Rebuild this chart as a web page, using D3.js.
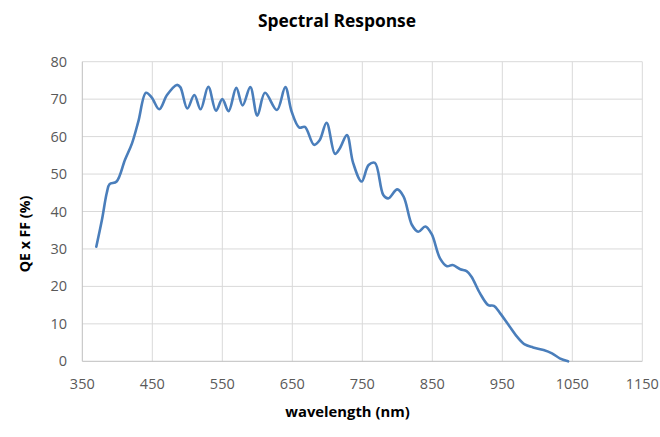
<!DOCTYPE html>
<html><head><meta charset="utf-8">
<script src="https://cdn.jsdelivr.net/npm/d3@7/dist/d3.min.js"></script>
<style>body{margin:0;background:#fff}svg{display:block}</style>
</head><body>
<script>
const wavelength = [370,378,385,389,399,411,421,430,441,449,460,471,485,490,500,510,519,530,541,550,559,570,579,590,600,611,628,640,649,660,668,681,689,699,711,718,728,737,749,759,768,780,787,800,809,821,830,840,849,861,871,879,890,899,906,918,930,938,947,959,971,982,994,1009,1021,1032,1044];
const qeff = [30.6,37.7,45,47.3,48,53.8,58.2,64,71.7,70.5,67.3,71.1,73.8,73.2,67.5,71.1,67.3,73.3,66.9,70,66.8,73,68.3,73.2,65.6,71.7,67.1,73.2,66.7,62.4,62.6,57.8,59,63.7,55.4,56.9,60.4,52.9,48,52.4,53,44.4,43.5,45.9,44,36.4,34.6,36,34,27.5,25.4,25.7,24.6,24.1,22.6,18.2,15,14.8,12.8,9.7,6.6,4.5,3.7,3.0,2.1,0.8,0];
const xTicks = [350,450,550,650,750,850,950,1050,1150];
const yTicks = [0,10,20,30,40,50,60,70,80];

const W = 660, H = 437;
const svg = d3.select("body").append("svg").attr("width", W).attr("height", H);
const x = d3.scaleLinear().domain([350,1150]).range([82.3,642.3]);
const y = d3.scaleLinear().domain([0,80]).range([361.3,61.7]);
const font = "'Open Sans', 'DejaVu Sans', sans-serif";

// gridlines
svg.append("g").selectAll("line").data(yTicks.filter(d=>d>0)).join("line")
  .attr("x1", x(350)).attr("x2", x(1150)).attr("y1", d=>y(d)).attr("y2", d=>y(d))
  .attr("stroke", "#d9d9d9").attr("stroke-width", 1);
svg.append("g").selectAll("line").data(xTicks.filter(d=>d>350)).join("line")
  .attr("x1", d=>x(d)).attr("x2", d=>x(d)).attr("y1", y(0)).attr("y2", y(80))
  .attr("stroke", "#d9d9d9").attr("stroke-width", 1);
// axes lines
svg.append("line").attr("x1", x(350)).attr("x2", x(1150)).attr("y1", y(0)).attr("y2", y(0))
  .attr("stroke", "#bfbfbf").attr("stroke-width", 1);
svg.append("line").attr("x1", x(350)).attr("x2", x(350)).attr("y1", y(0)).attr("y2", y(80))
  .attr("stroke", "#bfbfbf").attr("stroke-width", 1);

// tick labels
svg.append("g").selectAll("text").data(yTicks).join("text")
  .attr("x", 67).attr("y", d=>y(d)).attr("dy", "0.35em").attr("text-anchor", "end")
  .attr("font-family", font).attr("font-size", 14.5).attr("fill", "#595959").text(d=>d);
svg.append("g").selectAll("text").data(xTicks).join("text")
  .attr("x", d=>x(d)).attr("y", 384).attr("dy", "0.35em").attr("text-anchor", "middle")
  .attr("font-family", font).attr("font-size", 14.5).attr("fill", "#595959").text(d=>d);

// line
const line = d3.line().x((d,i)=>x(wavelength[i])).y(d=>y(d)).curve(d3.curveCatmullRom.alpha(0.5));
svg.append("path").datum(qeff).attr("d", line).attr("fill", "none")
  .attr("stroke", "#4a7ebb").attr("stroke-width", 2.6).attr("stroke-linejoin", "round").attr("stroke-linecap", "round");

// titles
svg.append("text").attr("x", 337).attr("y", 21).attr("dy", "0.35em").attr("text-anchor", "middle")
  .attr("font-family", font).attr("font-weight", "bold").attr("font-size", 17.4).attr("fill", "#000").text("Spectral Response");
svg.append("text").attr("x", 347.5).attr("y", 412).attr("dy", "0.35em").attr("text-anchor", "middle")
  .attr("font-family", font).attr("font-weight", "bold").attr("font-size", 14.8).attr("fill", "#000").text("wavelength (nm)");
svg.append("text").attr("transform", "translate(25,234) rotate(-90)").attr("dy", "0.35em").attr("text-anchor", "middle")
  .attr("font-family", font).attr("font-weight", "bold").attr("font-size", 14.2).attr("fill", "#000").text("QE x FF (%)");
</script>
</body></html>
